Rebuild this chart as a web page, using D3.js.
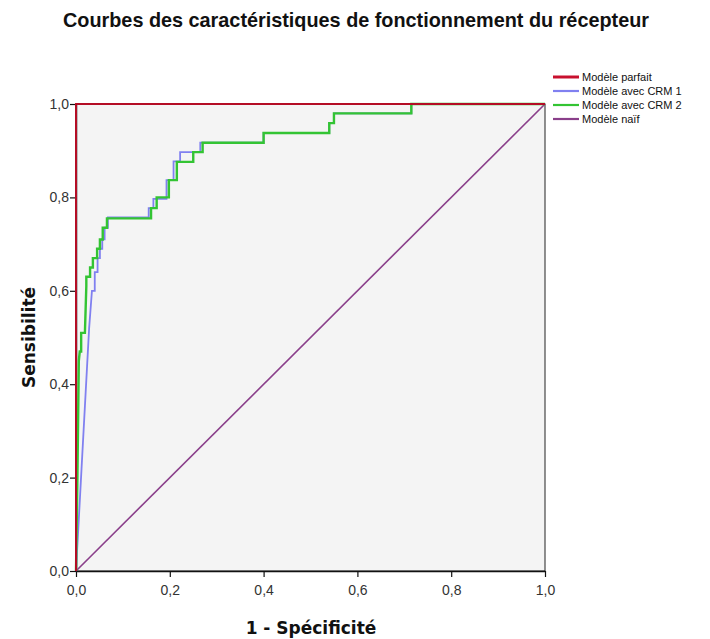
<!DOCTYPE html>
<html>
<head>
<meta charset="utf-8">
<script src="https://cdn.jsdelivr.net/npm/d3@7/dist/d3.min.js"></script>
<style>
  html, body { margin: 0; padding: 0; background: #ffffff; }
  svg { display: block; }
</style>
</head>
<body>
<div id="chart"></div>
<script>
// ---- Data ----
const title = "Courbes des caractéristiques de fonctionnement du récepteur";
const xLabel = "1 - Spécificité";
const yLabel = "Sensibilité";
const tickValues = [0, 0.2, 0.4, 0.6, 0.8, 1.0];
const seriesNames = ["Modèle parfait", "Modèle avec CRM 1", "Modèle avec CRM 2", "Modèle naïf"];
const seriesColors = ["#c8102e", "#8080f0", "#33c433", "#8a3f8a"];

const perfectModel = [[0, 0], [0, 1], [1, 1]];
const naiveModel = [[0, 0], [1, 1]];
const crm1 = [
  [0, 0], [0.028, 0.52], [0.034, 0.60], [0.040, 0.60], [0.040, 0.64], [0.046, 0.64],
  [0.046, 0.67], [0.051, 0.67], [0.051, 0.69], [0.056, 0.69], [0.056, 0.71],
  [0.061, 0.71], [0.061, 0.735], [0.068, 0.735], [0.068, 0.757], [0.155, 0.757],
  [0.155, 0.777], [0.165, 0.777], [0.165, 0.797], [0.193, 0.797], [0.193, 0.837],
  [0.208, 0.837], [0.208, 0.877], [0.222, 0.877], [0.222, 0.897], [0.265, 0.897],
  [0.265, 0.917], [0.40, 0.917], [0.40, 0.938], [0.54, 0.938], [0.54, 0.959],
  [0.55, 0.959], [0.55, 0.98], [0.715, 0.98], [0.715, 1.0], [1, 1]
];
const crm2 = [
  [0, 0], [0.003, 0.20], [0.006, 0.45], [0.008, 0.47], [0.011, 0.47], [0.011, 0.51],
  [0.019, 0.51], [0.022, 0.61], [0.022, 0.63], [0.030, 0.63], [0.030, 0.65],
  [0.036, 0.65], [0.036, 0.67], [0.045, 0.67], [0.045, 0.69], [0.051, 0.69],
  [0.051, 0.71], [0.057, 0.71], [0.057, 0.735], [0.066, 0.735], [0.066, 0.755],
  [0.16, 0.755], [0.16, 0.777], [0.172, 0.777], [0.172, 0.80], [0.198, 0.80],
  [0.198, 0.837], [0.215, 0.837], [0.215, 0.876], [0.25, 0.876], [0.25, 0.897],
  [0.27, 0.897], [0.27, 0.917], [0.40, 0.917], [0.40, 0.938], [0.54, 0.938],
  [0.54, 0.959], [0.55, 0.959], [0.55, 0.98], [0.715, 0.98], [0.715, 1.0], [1, 1]
];

// ---- Layout ----
const W = 710, H = 639;
const plot = { left: 76, right: 545, top: 104, bottom: 571 };

const svg = d3.select("#chart").append("svg").attr("width", W).attr("height", H);

const x = d3.scaleLinear().domain([0, 1]).range([plot.left, plot.right]);
const y = d3.scaleLinear().domain([0, 1]).range([plot.bottom, plot.top]);

// plot background + frame
svg.append("rect")
  .attr("x", plot.left).attr("y", plot.top)
  .attr("width", plot.right - plot.left).attr("height", plot.bottom - plot.top)
  .attr("fill", "#f4f4f4").attr("stroke", "#222").attr("stroke-width", 1);

// title
svg.append("text")
  .attr("x", 356).attr("y", 27)
  .attr("text-anchor", "middle")
  .attr("textLength", 586).attr("lengthAdjust", "spacingAndGlyphs")
  .style("font-family", "'Liberation Sans Narrow', 'Arial Narrow', 'Liberation Sans', sans-serif")
  .style("font-weight", "bold").style("font-size", "21px").attr("fill", "#111")
  .text(title);

const fmt = d => d3.format(".1f")(d).replace(".", ",");
const tickFont = "'Liberation Sans Narrow', 'Arial Narrow', 'Liberation Sans', sans-serif";

// axes
const xAxis = svg.append("g").attr("transform", `translate(0,${plot.bottom})`)
  .call(d3.axisBottom(x).tickValues(tickValues).tickFormat(fmt).tickSize(6).tickSizeOuter(0));
const yAxis = svg.append("g").attr("transform", `translate(${plot.left},0)`)
  .call(d3.axisLeft(y).tickValues(tickValues).tickFormat(fmt).tickSize(6).tickSizeOuter(0));
[xAxis, yAxis].forEach(g => {
  g.select(".domain").attr("stroke", "#111").attr("stroke-width", 1.5);
  g.selectAll(".tick line").attr("stroke", "#111").attr("stroke-width", 1.2);
  g.selectAll(".tick text").style("font-family", tickFont).style("font-size", "14px").attr("fill", "#333");
});
xAxis.selectAll(".tick text").attr("dy", "1.05em");
yAxis.selectAll(".tick text").attr("x", -7);

// axis titles
svg.append("text")
  .attr("x", 311).attr("y", 634).attr("text-anchor", "middle")
  .style("font-family", "'DejaVu Sans', sans-serif").style("font-weight", "bold").style("font-size", "17px")
  .attr("fill", "#111").text(xLabel);
svg.append("text")
  .attr("transform", `translate(35,${(plot.top + plot.bottom) / 2}) rotate(-90)`)
  .attr("text-anchor", "middle")
  .style("font-family", "'DejaVu Sans', sans-serif").style("font-weight", "bold").style("font-size", "17px")
  .attr("fill", "#111").text(yLabel);

// lines
const line = d3.line().x(d => x(d[0])).y(d => y(d[1]));
const marks = svg.append("g");
marks.append("path").datum(naiveModel).attr("d", line)
  .attr("fill", "none").attr("stroke", seriesColors[3]).attr("stroke-width", 1.6);
marks.append("path").datum(crm1).attr("d", line)
  .attr("fill", "none").attr("stroke", seriesColors[1]).attr("stroke-width", 1.8);
marks.append("path").datum(crm2).attr("d", line)
  .attr("fill", "none").attr("stroke", seriesColors[2]).attr("stroke-width", 2.4);
marks.append("path").datum(perfectModel).attr("d", line)
  .attr("fill", "none").attr("stroke", seriesColors[0]).attr("stroke-width", 2);
marks.append("path").datum(perfectModel).attr("d", line)
  .attr("fill", "none").attr("stroke", "#5a0000").attr("stroke-width", 0.6).attr("opacity", 0.6);

// legend
const legend = svg.append("g");
seriesNames.forEach((name, i) => {
  const ly = 77 + i * 14;
  legend.append("line")
    .attr("x1", 553).attr("x2", 579).attr("y1", ly).attr("y2", ly)
    .attr("stroke", seriesColors[i]).attr("stroke-width", i === 0 ? 3 : 2.2);
  legend.append("text")
    .attr("x", 582).attr("y", ly).attr("dy", "0.35em")
    .style("font-family", "'Liberation Sans', Arial, sans-serif").style("font-size", "11px")
    .attr("fill", "#111").text(name);
});
</script>
</body>
</html>
